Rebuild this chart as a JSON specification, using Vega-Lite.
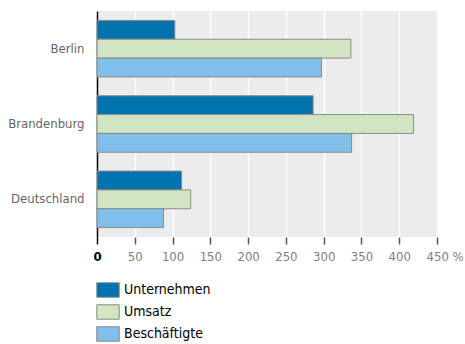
{
  "$schema": "https://vega.github.io/schema/vega-lite/v6.json",
  "width": 340,
  "height": 226,
  "autosize": "none",
  "padding": {"left": 97, "top": 11, "right": 28, "bottom": 107},
  "background": "white",
  "config": {
    "view": {"fill": "#ececec", "stroke": null},
    "font": "DejaVu Sans Condensed"
  },
  "data": {
    "values": [
      {"region": "Berlin", "kennzahl": "Unternehmen", "prozent": 103},
      {"region": "Berlin", "kennzahl": "Umsatz", "prozent": 336},
      {"region": "Berlin", "kennzahl": "Beschäftigte", "prozent": 297},
      {"region": "Brandenburg", "kennzahl": "Unternehmen", "prozent": 286},
      {"region": "Brandenburg", "kennzahl": "Umsatz", "prozent": 419},
      {"region": "Brandenburg", "kennzahl": "Beschäftigte", "prozent": 337},
      {"region": "Deutschland", "kennzahl": "Unternehmen", "prozent": 112},
      {"region": "Deutschland", "kennzahl": "Umsatz", "prozent": 124},
      {"region": "Deutschland", "kennzahl": "Beschäftigte", "prozent": 88}
    ]
  },
  "mark": {"type": "bar", "stroke": "#8a8a8a", "strokeWidth": 1},
  "encoding": {
    "y": {
      "field": "region",
      "type": "nominal",
      "sort": ["Berlin", "Brandenburg", "Deutschland"],
      "scale": {"paddingInner": 0.25, "paddingOuter": 0.125},
      "axis": {
        "title": null,
        "ticks": false,
        "grid": false,
        "domainColor": "black",
        "domainWidth": 1.5,
        "labelFont": "DejaVu Sans Condensed",
        "labelColor": "#666666",
        "labelFontSize": 13,
        "labelPadding": 13
      }
    },
    "yOffset": {
      "field": "kennzahl",
      "type": "nominal",
      "sort": ["Unternehmen", "Umsatz", "Beschäftigte"],
      "scale": {"paddingInner": 0, "paddingOuter": 0}
    },
    "x": {
      "field": "prozent",
      "type": "quantitative",
      "scale": {"domain": [0, 450], "nice": false},
      "axis": {
        "title": null,
        "values": [0, 50, 100, 150, 200, 250, 300, 350, 400, 450],
        "domain": false,
        "gridColor": "white",
        "gridWidth": 1.5,
        "tickSize": 7,
        "tickWidth": 1.5,
        "tickColor": {"condition": {"test": "datum.value === 0", "value": "black"}, "value": "#555555"},
        "labelFont": "DejaVu Sans Condensed",
        "labelFontSize": 13,
        "labelPadding": 6,
        "labelColor": {"condition": {"test": "datum.value === 0", "value": "black"}, "value": "#808080"},
        "labelFontWeight": {"condition": {"test": "datum.value === 0", "value": "bold"}, "value": "normal"},
        "labelAlign": {"condition": {"test": "datum.value === 450", "value": "left"}, "value": "center"},
        "labelOffset": {"condition": {"test": "datum.value === 450", "value": -11}, "value": 0},
        "labelExpr": "datum.value === 450 ? '450 %' : datum.label"
      }
    },
    "color": {
      "field": "kennzahl",
      "type": "nominal",
      "scale": {
        "domain": ["Unternehmen", "Umsatz", "Beschäftigte"],
        "range": ["#0072ae", "#d1e5c3", "#80bfea"]
      },
      "legend": {
        "title": null,
        "orient": "none",
        "legendX": 3,
        "legendY": 271,
        "direction": "vertical",
        "symbolType": "M-1.55,-1H1.55V1H-1.55Z",
        "symbolSize": 210,
        "symbolStrokeColor": "#8a8a8a",
        "symbolStrokeWidth": 1,
        "symbolOpacity": 1,
        "labelFont": "DejaVu Sans Condensed",
        "labelFontSize": 14,
        "labelColor": "black",
        "labelOffset": 8,
        "rowPadding": 2
      }
    }
  }
}
